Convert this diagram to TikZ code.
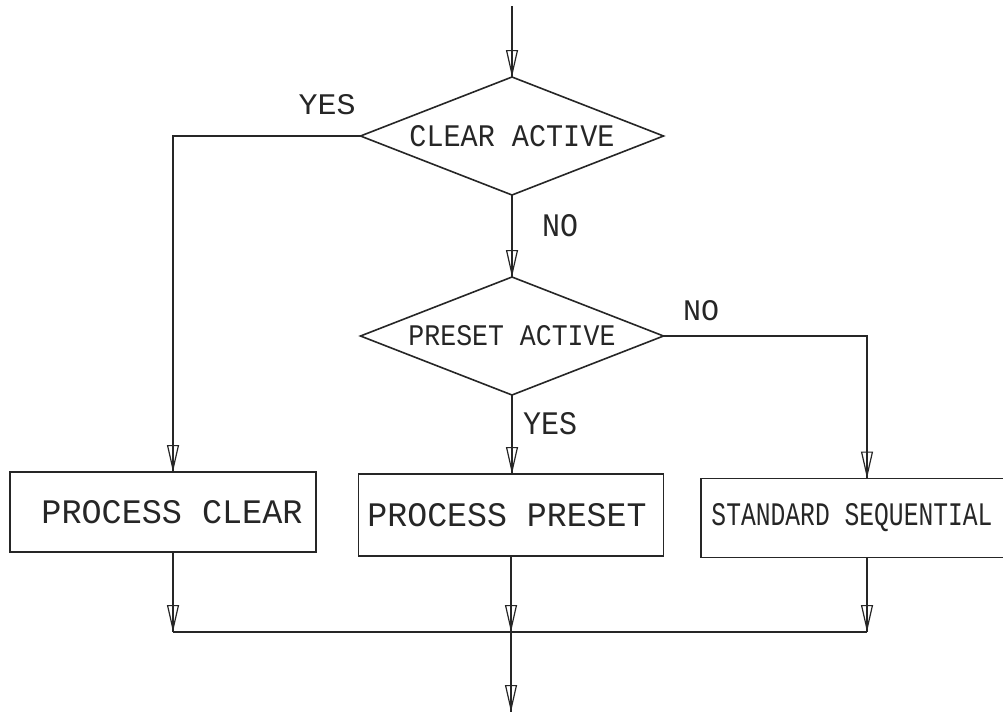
\documentclass[tikz,border=0pt]{standalone}
\usepackage{fontspec}
\setmainfont{Liberation Mono}
\usepackage{graphicx}
\usetikzlibrary{shapes.geometric,arrows.meta}
\newcommand{\plt}[3]{\resizebox{#1pt}{#2pt}{#3}}
\definecolor{ink}{HTML}{262626}
\begin{document}
\begin{tikzpicture}[x=1pt,y=-1pt,
  every node/.style={inner sep=0pt, outer sep=0pt, text=ink},
  line/.style={draw=ink, line width=1.5pt},
  arr/.style={line, -{Triangle[open,length=27pt,width=12pt,line width=1.2pt]},
              postaction={draw=ink, line width=1.1pt, arrows=-}},
  dec/.style={diamond, draw=ink, line width=1.6pt, aspect=2.57,
              minimum width=303pt, minimum height=118pt},
  proc/.style={rectangle, draw=ink, line width=1.6pt}]
\useasboundingbox[fill=white] (0,0) rectangle (1003,715);

\coordinate (start) at (512,6);
\node[dec] (d1) at (512,136) {\plt{205}{21}{CLEAR ACTIVE}};
\node[dec] (d2) at (512,336) {\plt{207}{20}{PRESET ACTIVE}};
\node[proc, minimum width=306pt, minimum height=80pt] (b1) at (163,512)
  {\hspace*{18pt}\plt{261}{23}{PROCESS CLEAR}};
\node[proc, minimum width=305pt, minimum height=82pt] (b2) at (511,515)
  {\hspace*{-8pt}\plt{279}{23}{PROCESS PRESET}};
\node[proc, minimum width=320pt, minimum height=79pt] (b3) at (861,518)
  {\hspace*{-18pt}\plt{281}{22}{STANDARD SEQUENTIAL}};

\node (yes1) at (327,105) {\plt{57}{20}{YES}};
\node (no1) at (560,226) {\plt{36}{22}{NO}};
\node (no2) at (701,311) {\plt{36}{20}{NO}};
\node (yes2) at (550,424) {\plt{54}{22}{YES}};

\coordinate (j1) at (173,632);
\coordinate (j2) at (511,632);
\coordinate (j3) at (867,632);
\coordinate (out) at (511,712);

\draw[arr] (start) -- (d1.north);
\draw[arr] (d1.west) -| ([xshift=10pt]b1.north);
\draw[arr] (d1.south) -- (d2.north);
\draw[arr] (d2.east) -| ([xshift=6pt]b3.north);
\draw[arr] (d2.south) -- (d2.south |- b2.north);
\draw[arr] ([xshift=10pt]b1.south) -- (j1);
\draw[arr] (b2.south) -- (j2);
\draw[arr] ([xshift=6pt]b3.south) -- (j3);
\draw[line] (j1) -- (j3);
\draw[arr] (j2) -- (out);
\end{tikzpicture}
\end{document}
